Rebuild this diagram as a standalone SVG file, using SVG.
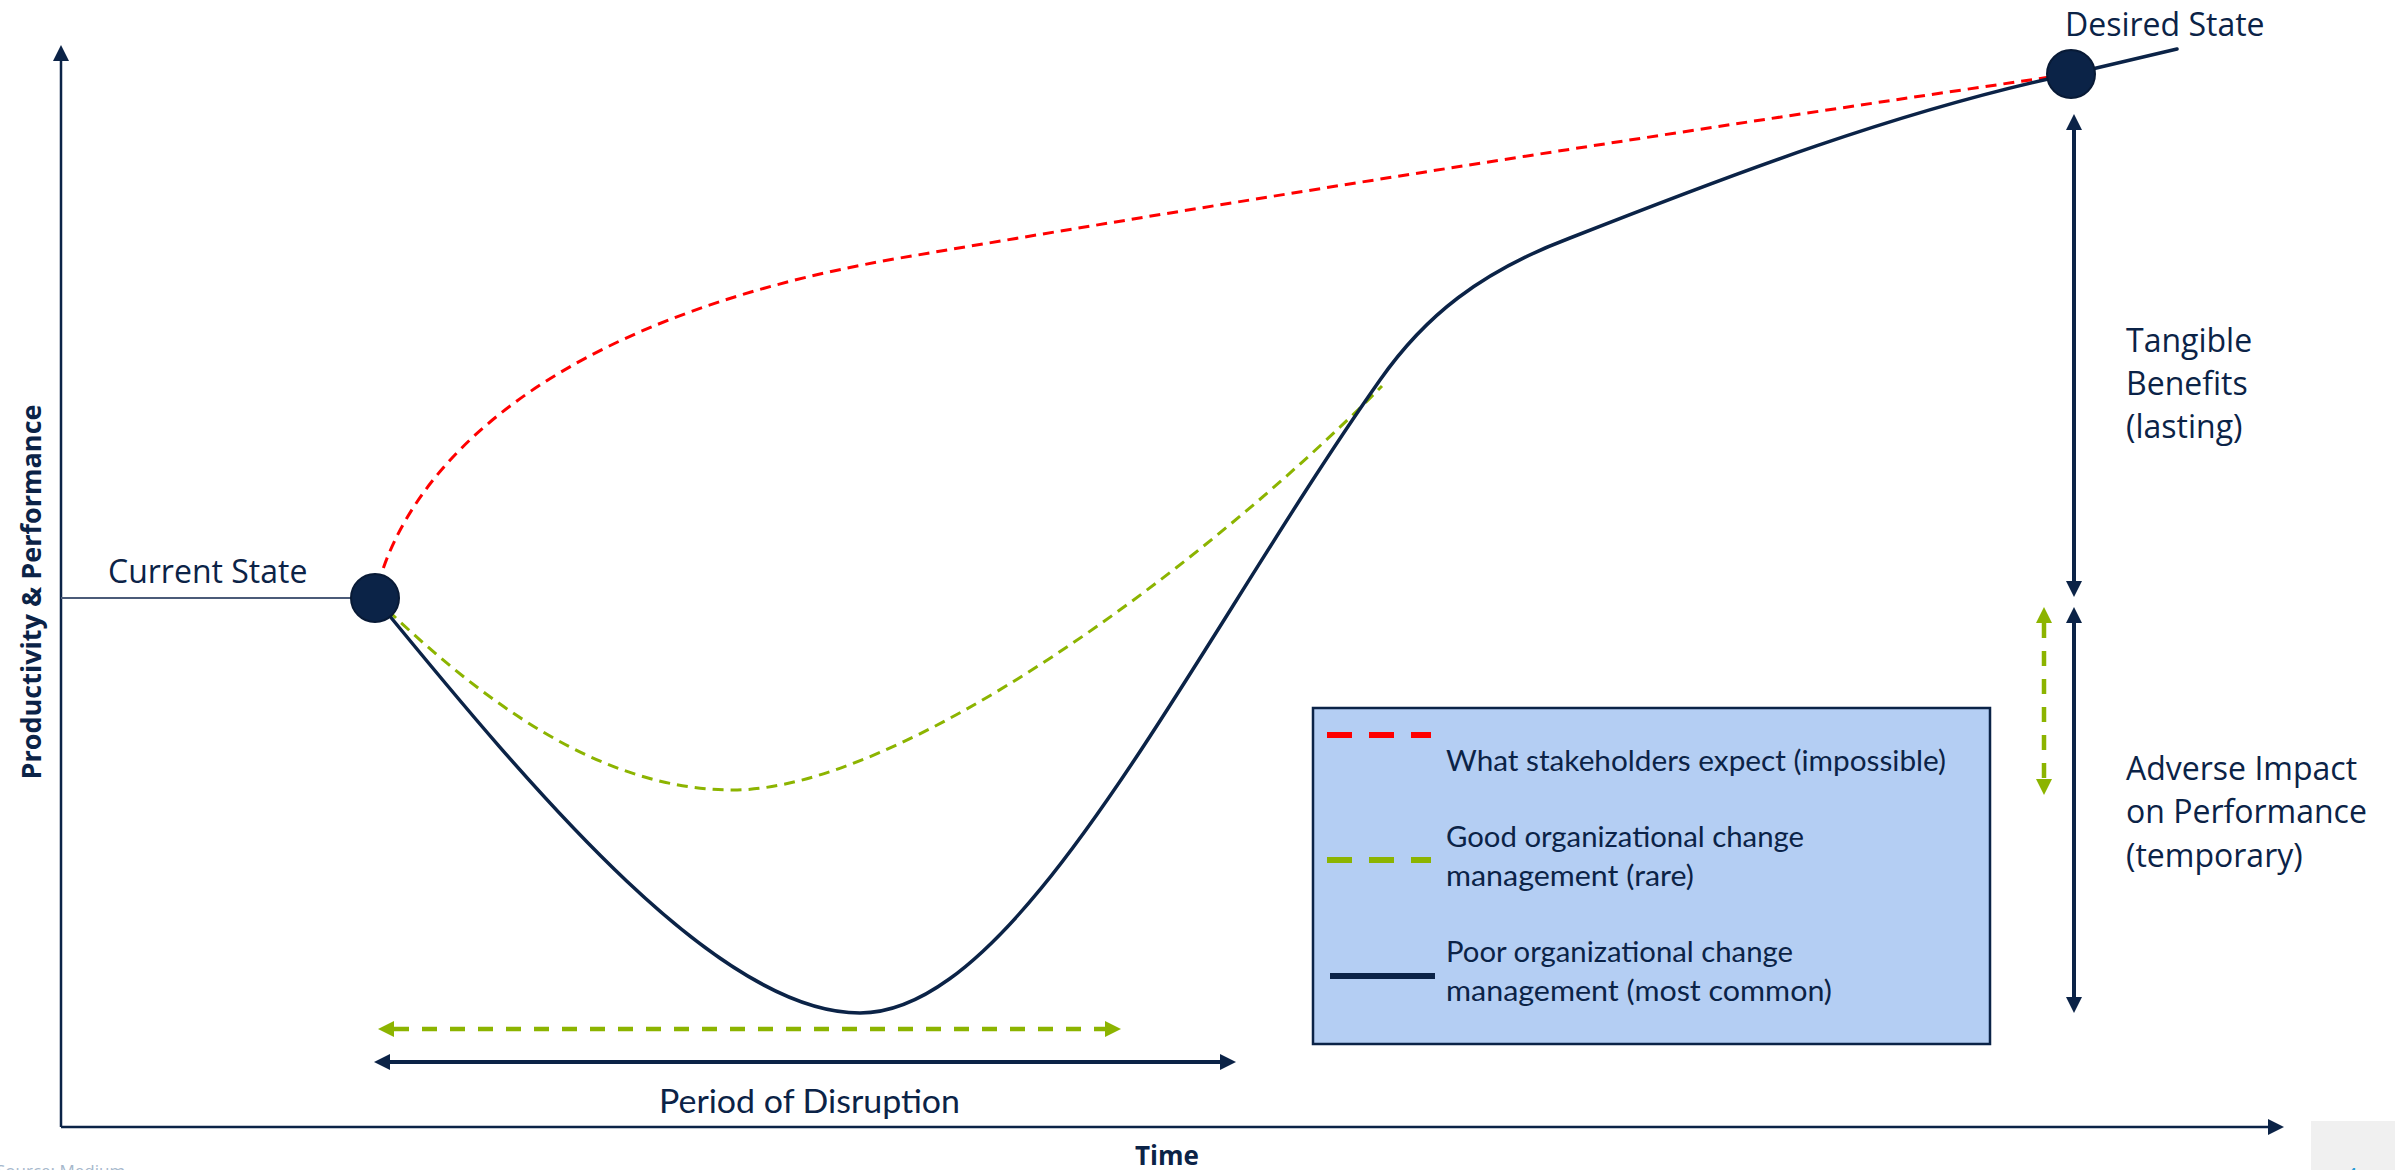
<svg xmlns="http://www.w3.org/2000/svg" width="2395" height="1170" viewBox="0 0 2395 1170">
  <style>
    .label { font-family: "Open Sans", "Liberation Sans", sans-serif; font-size: 32px; fill: #0b2347; }
    .axis-title { font-family: "Open Sans", "Liberation Sans", sans-serif; font-size: 26px; font-weight: bold; fill: #0b2347; }
    .legend-text { font-family: Lato, "Liberation Sans", sans-serif; font-size: 29px; fill: #0b2347; }
    .axis { stroke: #0b2347; stroke-width: 2.5; fill: none; }
    .poor { stroke: #0b2347; stroke-width: 3.5; fill: none; stroke-linecap: round; }
    .good { stroke: #8cb400; stroke-width: 3; fill: none; stroke-dasharray: 11 7; }
    .expect { stroke: #ff0000; stroke-width: 3; fill: none; stroke-dasharray: 11 7; }
    .span-navy { stroke: #0b2347; stroke-width: 4; fill: none; }
    .span-green { stroke: #8cb400; stroke-width: 4.5; fill: none; stroke-dasharray: 15 13; }
    .state { fill: #0b2347; stroke: #081a36; stroke-width: 2; }
  </style>
  <defs>
    <marker id="axisHead" viewBox="0 0 16 16" markerWidth="16" markerHeight="16" refX="0" refY="8" orient="auto" markerUnits="userSpaceOnUse">
      <path d="M0,0 L16,8 L0,16 z" fill="#0b2347"/>
    </marker>
    <marker id="navyHead" viewBox="0 0 16 16" markerWidth="16" markerHeight="16" refX="0" refY="8" orient="auto-start-reverse" markerUnits="userSpaceOnUse">
      <path d="M0,0 L16,8 L0,16 z" fill="#0b2347"/>
    </marker>
    <marker id="greenHead" viewBox="0 0 16 16" markerWidth="16" markerHeight="16" refX="0" refY="8" orient="auto-start-reverse" markerUnits="userSpaceOnUse">
      <path d="M0,0 L16,8 L0,16 z" fill="#8cb400"/>
    </marker>
  </defs>

  <rect width="2395" height="1170" fill="#ffffff"/>

  <!-- axes -->
  <g id="axes">
    <line class="axis" x1="61" y1="1127" x2="61" y2="61" marker-end="url(#axisHead)"/>
    <line class="axis" x1="61" y1="1127" x2="2268" y2="1127" marker-end="url(#axisHead)"/>
    <text class="axis-title" transform="translate(41,592) rotate(-90)" text-anchor="middle" textLength="375" lengthAdjust="spacingAndGlyphs">Productivity &amp; Performance</text>
    <text class="axis-title" x="1167" y="1165" text-anchor="middle">Time</text>
  </g>

  <!-- curves and span arrows -->
  <g id="connectors">
    <line x1="61" y1="598" x2="360" y2="598" stroke="#4b5b78" stroke-width="2"/>
    <path class="expect" d="M378,585 C410,470 540,320 900,258 C1300,190 1700,128 2071,74"/>
    <path class="good" d="M375,598 C480,700 600,790 733,790 C900,790 1200,570 1382,386"/>
    <path class="poor" d="M375,598 C540,800 720,1013 860,1013 C1020,1013 1190,650 1380,380 C1425,316 1480,272 1570,238 C1730,175 1900,110 2071,74 L2177,49"/>

    <line class="span-navy" x1="2074" y1="130" x2="2074" y2="581" marker-start="url(#navyHead)" marker-end="url(#navyHead)"/>
    <line class="span-navy" x1="2074" y1="623" x2="2074" y2="997" marker-start="url(#navyHead)" marker-end="url(#navyHead)"/>
    <line class="span-green" x1="2044" y1="623" x2="2044" y2="779" marker-start="url(#greenHead)" marker-end="url(#greenHead)"/>
    <line class="span-green" x1="394" y1="1029" x2="1105" y2="1029" marker-start="url(#greenHead)" marker-end="url(#greenHead)"/>
    <line class="span-navy" x1="390" y1="1062" x2="1220" y2="1062" marker-start="url(#navyHead)" marker-end="url(#navyHead)"/>
  </g>

  <!-- states -->
  <g id="current-state">
    <circle class="state" cx="375" cy="598" r="24"/>
    <text class="label" x="108" y="583">Current State</text>
  </g>
  <g id="desired-state">
    <circle class="state" cx="2071" cy="74" r="24"/>
    <text class="label" x="2065" y="36">Desired State</text>
  </g>

  <!-- span labels -->
  <g id="tangible-benefits">
    <text class="label" x="2126" y="352">Tangible</text>
    <text class="label" x="2126" y="395">Benefits</text>
    <text class="label" x="2126" y="438">(lasting)</text>
  </g>
  <g id="adverse-impact">
    <text class="label" x="2126" y="780">Adverse Impact</text>
    <text class="label" x="2126" y="823">on Performance</text>
    <text class="label" x="2126" y="867">(temporary)</text>
  </g>
  <g id="period-of-disruption">
    <text class="legend-text" x="659" y="1113" style="font-size:33px" textLength="301" lengthAdjust="spacingAndGlyphs">Period of Disruption</text>
  </g>

  <!-- legend -->
  <g id="legend">
    <rect x="1313" y="708" width="677" height="336" fill="#b4cef3" stroke="#0b2347" stroke-width="2.5"/>
    <line x1="1327" y1="735" x2="1431" y2="735" stroke="#ff0000" stroke-width="6" stroke-dasharray="25 17"/>
    <text class="legend-text" x="1446" y="771" textLength="500" lengthAdjust="spacingAndGlyphs">What stakeholders expect (impossible)</text>
    <line x1="1327" y1="860" x2="1431" y2="860" stroke="#8cb400" stroke-width="6" stroke-dasharray="25 17"/>
    <text class="legend-text" x="1446" y="847" textLength="358" lengthAdjust="spacingAndGlyphs">Good organizational change</text>
    <text class="legend-text" x="1446" y="886" textLength="248" lengthAdjust="spacingAndGlyphs">management (rare)</text>
    <line x1="1330" y1="976" x2="1435" y2="976" stroke="#0b2347" stroke-width="6"/>
    <text class="legend-text" x="1446" y="962" textLength="347" lengthAdjust="spacingAndGlyphs">Poor organizational change</text>
    <text class="legend-text" x="1446" y="1001" textLength="386" lengthAdjust="spacingAndGlyphs">management (most common)</text>
  </g>

  <!-- page footer -->
  <g id="footer">
    <text x="-4" y="1177" font-family="'Open Sans', 'Liberation Sans', sans-serif" font-size="17" fill="#a6b8cc">Source: Medium</text>
    <rect x="2311" y="1121" width="84" height="49" fill="#f0f0f0"/>
    <text x="2346" y="1182" font-family="'Open Sans', 'Liberation Sans', sans-serif" font-size="20" fill="#1f9ad6">4</text>
  </g>
</svg>
